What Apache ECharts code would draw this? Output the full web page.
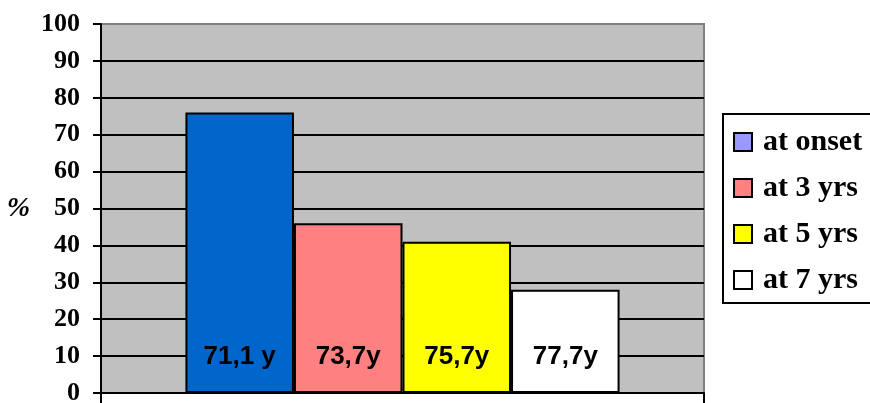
<!DOCTYPE html>
<html>
<head>
    <meta charset="utf-8">
    <title>ECharts</title>
    <script src="https://cdn.jsdelivr.net/npm/echarts@6/dist/echarts.min.js"></script>
    <style>
        html, body { margin: 0; padding: 0; background: #fff; }
    </style>
</head>
<body>
    <div id="main" style="width: 870px;height:403px;"></div>

    <script type="text/javascript">
        // data
        var seriesNames = ['at onset', 'at 3 yrs', 'at 5 yrs', 'at 7 yrs'];
        var values = [76, 46, 41, 28];
        var barLabels = ['71,1 y', '73,7y', '75,7y', '77,7y'];
        var barColors = ['#0066CC', '#FF8080', '#FFFF00', '#FFFFFF'];
        var legendColors = ['#9999FF', '#FF8080', '#FFFF00', '#FFFFFF'];

        var myChart = echarts.init(document.getElementById('main'));

        // 10 black gridlines, the top one stays grey like the frame
        var gridColors = [];
        for (var i = 0; i < 10; i++) gridColors.push('#000');
        gridColors.push('#808080');

        var series = [];
        for (var k = 0; k < seriesNames.length; k++) {
            series.push({
                name: seriesNames[k],
                type: 'bar',
                barGap: '0%',
                barCategoryGap: '28%',
                data: [values[k]],
                itemStyle: {
                    color: barColors[k],
                    borderColor: '#000',
                    borderWidth: 2
                },
                label: {
                    show: true,
                    position: 'insideBottom',
                    distance: 23,
                    formatter: barLabels[k],
                    color: '#000',
                    fontFamily: 'Liberation Sans',
                    fontWeight: 'bold',
                    fontSize: 26
                }
            });
        }

        var option = {
            animation: false,
            grid: {
                left: 101,
                right: 166,
                top: 24,
                bottom: 10,
                outerBoundsMode: 'none',
                show: true,
                backgroundColor: '#C0C0C0',
                borderColor: '#808080',
                borderWidth: 2
            },
            legend: {
                orient: 'vertical',
                left: 723,
                top: 114,
                backgroundColor: '#fff',
                borderColor: '#000',
                borderWidth: 2,
                borderRadius: 0,
                padding: [13, 10, 8, 10],
                itemWidth: 18,
                itemHeight: 18,
                itemGap: 16,
                icon: 'rect',
                data: seriesNames.map(function (n, i) {
                    return { name: n, itemStyle: { color: legendColors[i], borderColor: '#000', borderWidth: 2 } };
                }),
                textStyle: {
                    fontFamily: 'Liberation Serif',
                    fontWeight: 'bold',
                    fontSize: 30,
                    color: '#000',
                    padding: [0, 0, 0, 6]
                }
            },
            xAxis: {
                type: 'category',
                data: [''],
                axisLine: { lineStyle: { color: '#000', width: 2 } },
                axisTick: { show: true, length: 10, lineStyle: { color: '#000', width: 2 } },
                axisLabel: { show: false }
            },
            yAxis: {
                type: 'value',
                min: 0,
                max: 100,
                interval: 10,
                name: '%',
                nameLocation: 'middle',
                nameRotate: 0,
                nameGap: 71,
                nameTextStyle: {
                    fontFamily: 'Liberation Serif',
                    fontWeight: 'bold',
                    fontStyle: 'italic',
                    fontSize: 28,
                    color: '#000'
                },
                axisLine: { show: true, lineStyle: { color: '#000', width: 2 } },
                axisTick: { show: true, length: 8, lineStyle: { color: '#000', width: 2 } },
                axisLabel: {
                    margin: 21,
                    color: '#000',
                    fontFamily: 'Liberation Serif',
                    fontWeight: 'bold',
                    fontSize: 26
                },
                splitLine: { show: true, lineStyle: { color: gridColors, width: 2 } }
            },
            series: series
        };

        myChart.setOption(option);
    </script>
</body>
</html>
